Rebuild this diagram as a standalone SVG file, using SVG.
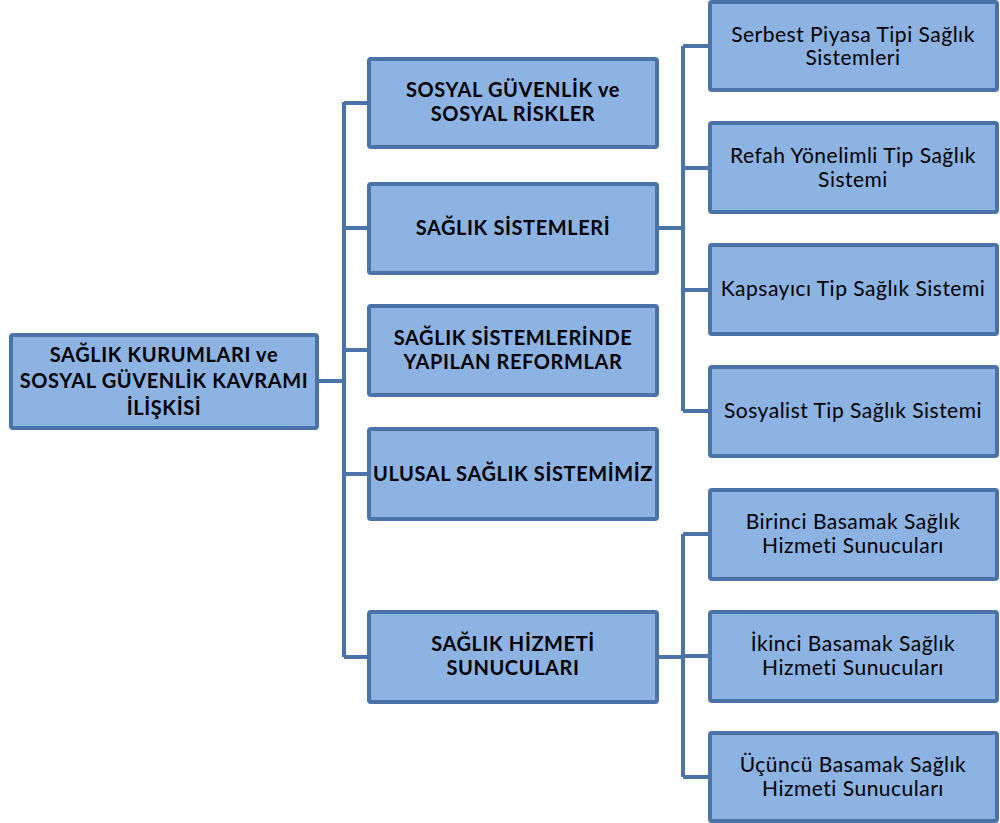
<svg xmlns="http://www.w3.org/2000/svg" width="1000" height="823" viewBox="0 0 1000 823">
<style>
.box{fill:#8db3e2;stroke:#4a73a8;stroke-width:4}
.conn{fill:none;stroke:#4a73a8;stroke-width:4;stroke-linejoin:miter}
.b{font-family:Lato,"Liberation Sans",sans-serif;font-weight:bold;font-size:20px;letter-spacing:0.6px;fill:#000;text-anchor:middle}
.r{font-family:Lato,"Liberation Sans",sans-serif;font-size:21px;letter-spacing:0.5px;fill:#000;text-anchor:middle}
</style>
<rect width="1000" height="823" fill="#fff"/>
<g id="connectors">
<path class="conn" d="M317 381H344M344 102V657M344 103H369M344 228H369M344 350H369M344 474H369M344 657H369"/>
<path class="conn" d="M658 228H683M683 46V411M683 46H710M683 168H710M683 290H710M683 411H710"/>
<path class="conn" d="M658 657H683M683 534V777M683 534H710M683 656H710M683 777H710"/>
</g>
<g id="root"><rect class="box" x="11" y="335" width="306" height="93" rx="2"/>
<text class="b" x="164" y="362">SAĞLIK KURUMLARI ve</text>
<text class="b" x="164" y="388">SOSYAL GÜVENLİK KAVRAMI</text>
<text class="b" x="164" y="415">İLİŞKİSİ</text></g>
<g id="m1"><rect class="box" x="369" y="59" width="288" height="88" rx="2"/>
<text class="b" x="513" y="97">SOSYAL GÜVENLİK ve</text>
<text class="b" x="513" y="121">SOSYAL RİSKLER</text></g>
<g id="m2"><rect class="box" x="369" y="184" width="288" height="89" rx="2"/>
<text class="b" x="513" y="235">SAĞLIK SİSTEMLERİ</text></g>
<g id="m3"><rect class="box" x="369" y="306" width="288" height="89" rx="2"/>
<text class="b" x="513" y="345">SAĞLIK SİSTEMLERİNDE</text>
<text class="b" x="513" y="369">YAPILAN REFORMLAR</text></g>
<g id="m4"><rect class="box" x="369" y="429" width="288" height="90" rx="2"/>
<text class="b" x="513" y="481">ULUSAL SAĞLIK SİSTEMİMİZ</text></g>
<g id="m5"><rect class="box" x="369" y="612" width="288" height="90" rx="2"/>
<text class="b" x="513" y="651">SAĞLIK HİZMETİ</text>
<text class="b" x="513" y="675">SUNUCULARI</text></g>
<g id="r1"><rect class="box" x="710" y="2" width="287" height="88" rx="2"/>
<text class="r" x="853" y="42">Serbest Piyasa Tipi Sağlık</text>
<text class="r" x="853" y="65">Sistemleri</text></g>
<g id="r2"><rect class="box" x="710" y="123" width="287" height="89" rx="2"/>
<text class="r" x="853" y="163">Refah Yönelimli Tip Sağlık</text>
<text class="r" x="853" y="187">Sistemi</text></g>
<g id="r3"><rect class="box" x="710" y="245" width="287" height="89" rx="2"/>
<text class="r" x="853" y="296">Kapsayıcı Tip Sağlık Sistemi</text></g>
<g id="r4"><rect class="box" x="710" y="367" width="287" height="89" rx="2"/>
<text class="r" x="853" y="418">Sosyalist Tip Sağlık Sistemi</text></g>
<g id="b1"><rect class="box" x="710" y="490" width="287" height="89" rx="2"/>
<text class="r" x="853" y="529">Birinci Basamak Sağlık</text>
<text class="r" x="853" y="553">Hizmeti Sunucuları</text></g>
<g id="b2"><rect class="box" x="710" y="612" width="287" height="89" rx="2"/>
<text class="r" x="853" y="651">İkinci Basamak Sağlık</text>
<text class="r" x="853" y="675">Hizmeti Sunucuları</text></g>
<g id="b3"><rect class="box" x="710" y="733" width="287" height="88" rx="2"/>
<text class="r" x="853" y="772">Üçüncü Basamak Sağlık</text>
<text class="r" x="853" y="796">Hizmeti Sunucuları</text></g>
</svg>
